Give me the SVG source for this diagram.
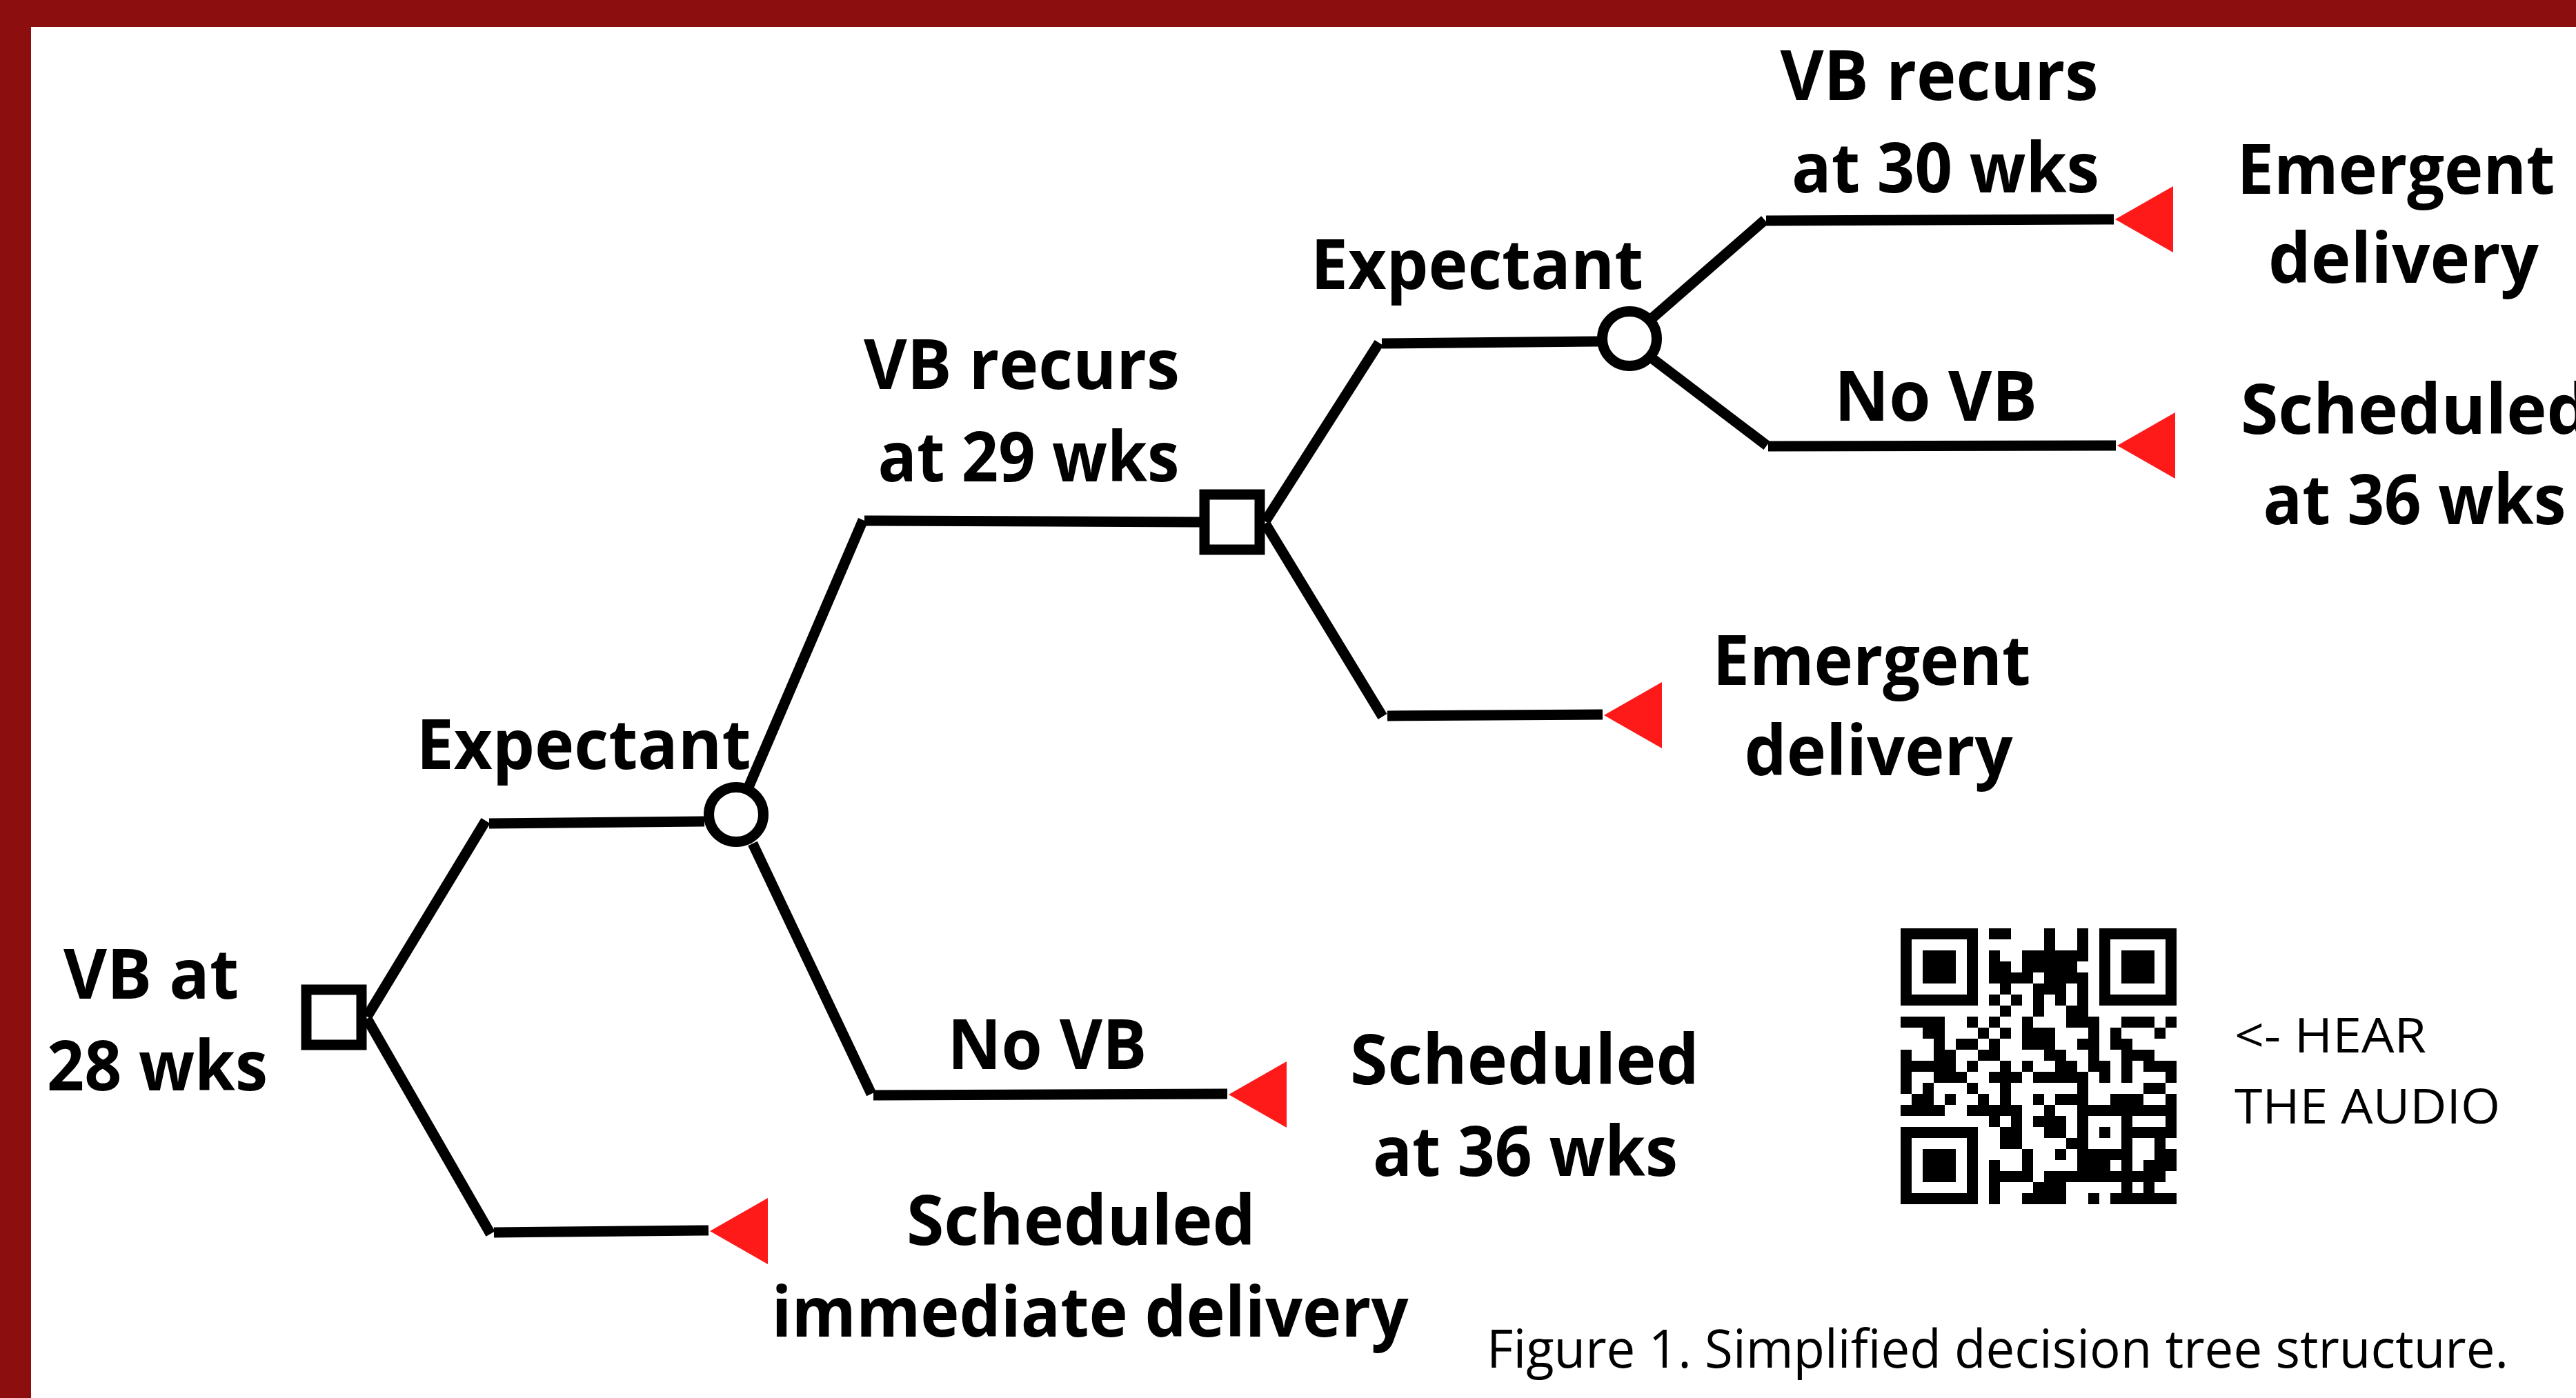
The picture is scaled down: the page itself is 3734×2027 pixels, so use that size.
<svg xmlns="http://www.w3.org/2000/svg" width="3734" height="2027" viewBox="0 0 3734 2027">
<style>
.lbl{font-family:"Open Sans","Noto Sans","Liberation Sans",sans-serif;font-weight:700;font-size:100px;fill:#000;text-anchor:middle}
.cap{font-family:"Open Sans","Noto Sans","Liberation Sans",sans-serif;font-weight:400;fill:#000}
.ln{stroke:#000;stroke-width:15;fill:none;stroke-linecap:butt}
.node{stroke:#000;stroke-width:15;fill:#fff}
.term{fill:#FF1A1A}
</style>
<defs>
<polygon id="tri" points="0,0 84,-48 84,48"/>
</defs>
<rect x="0" y="0" width="3734" height="2027" fill="#fff"/>
<g id="border" fill="#8C0E0E">
<rect x="0" y="0" width="3734" height="39"/>
<rect x="0" y="0" width="45" height="2027"/>
</g>
<g id="connectors" class="ln">
<line x1="532" y1="1474" x2="704" y2="1190"/>
<line x1="709" y1="1194" x2="1021" y2="1191"/>
<line x1="532" y1="1477" x2="711" y2="1789"/>
<line x1="716" y1="1787" x2="1027" y2="1784"/>
<line x1="1086" y1="1139" x2="1251" y2="754"/>
<line x1="1253" y1="755" x2="1739" y2="757"/>
<line x1="1091" y1="1223" x2="1263" y2="1586"/>
<line x1="1266" y1="1588" x2="1779" y2="1586"/>
<line x1="1834" y1="756" x2="1999" y2="497"/>
<line x1="2003" y1="498" x2="2317" y2="495"/>
<line x1="1834" y1="759" x2="2004" y2="1039"/>
<line x1="2011" y1="1038" x2="2323" y2="1036"/>
<line x1="2394" y1="462" x2="2558" y2="319"/>
<line x1="2560" y1="320" x2="3064" y2="318"/>
<line x1="2394" y1="519" x2="2561" y2="646"/>
<line x1="2563" y1="647" x2="3067" y2="646"/>
</g>
<g id="root">
<rect class="node" x="444" y="1435" width="80" height="80"/>
<text class="lbl" x="219" y="1448" textLength="254" lengthAdjust="spacingAndGlyphs">VB at</text>
<text class="lbl" x="228" y="1581" textLength="320" lengthAdjust="spacingAndGlyphs">28 wks</text>
</g>
<g id="chance1">
<circle class="node" cx="1067" cy="1181" r="39.5"/>
<text class="lbl" x="846" y="1115" textLength="485" lengthAdjust="spacingAndGlyphs">Expectant</text>
</g>
<g id="term-immediate">
<use href="#tri" class="term" x="1029" y="1785"/>
<text class="lbl" x="1567" y="1805" textLength="506" lengthAdjust="spacingAndGlyphs">Scheduled</text>
<text class="lbl" x="1580" y="1938" textLength="923" lengthAdjust="spacingAndGlyphs">immediate delivery</text>
</g>
<g id="decision2">
<rect class="node" x="1746" y="717" width="80" height="80"/>
<text class="lbl" x="1481" y="564" textLength="458" lengthAdjust="spacingAndGlyphs">VB recurs</text>
<text class="lbl" x="1491" y="698" textLength="437" lengthAdjust="spacingAndGlyphs">at 29 wks</text>
</g>
<g id="term-novb1">
<text class="lbl" x="1518" y="1550" textLength="289" lengthAdjust="spacingAndGlyphs">No VB</text>
<use href="#tri" class="term" x="1781" y="1587"/>
<text class="lbl" x="2210" y="1572" textLength="506" lengthAdjust="spacingAndGlyphs">Scheduled</text>
<text class="lbl" x="2211" y="1705" textLength="442" lengthAdjust="spacingAndGlyphs">at 36 wks</text>
</g>
<g id="chance2">
<circle class="node" cx="2362" cy="491" r="39.5"/>
<text class="lbl" x="2141" y="419" textLength="482" lengthAdjust="spacingAndGlyphs">Expectant</text>
</g>
<g id="term-emergent29">
<use href="#tri" class="term" x="2325" y="1037"/>
<text class="lbl" x="2713" y="993" textLength="461" lengthAdjust="spacingAndGlyphs">Emergent</text>
<text class="lbl" x="2723" y="1124" textLength="389" lengthAdjust="spacingAndGlyphs">delivery</text>
</g>
<g id="term-emergent30">
<text class="lbl" x="2811" y="145" textLength="461" lengthAdjust="spacingAndGlyphs">VB recurs</text>
<text class="lbl" x="2820" y="279" textLength="446" lengthAdjust="spacingAndGlyphs">at 30 wks</text>
<use href="#tri" class="term" x="3066" y="318"/>
<text class="lbl" x="3473" y="281" textLength="461" lengthAdjust="spacingAndGlyphs">Emergent</text>
<text class="lbl" x="3484" y="410" textLength="392" lengthAdjust="spacingAndGlyphs">delivery</text>
</g>
<g id="term-novb2">
<text class="lbl" x="2806" y="610" textLength="294" lengthAdjust="spacingAndGlyphs">No VB</text>
<use href="#tri" class="term" x="3069" y="646"/>
<text class="lbl" x="3501" y="629" textLength="506" lengthAdjust="spacingAndGlyphs">Scheduled</text>
<text class="lbl" x="3500" y="760" textLength="439" lengthAdjust="spacingAndGlyphs">at 36 wks</text>
</g>
<g id="qr" transform="translate(2755,1346) scale(16)" fill="#000" shape-rendering="crispEdges">
<path d="M0 0h7v1h-7zM8 0h2v1h-2zM13 0h1v1h-1zM16 0h1v1h-1zM18 0h7v1h-7z
M0 1h1v1h-1zM6 1h1v1h-1zM13 1h1v1h-1zM16 1h1v1h-1zM18 1h1v1h-1zM24 1h1v1h-1z
M0 2h1v1h-1zM2 2h3v1h-3zM6 2h1v1h-1zM8 2h1v1h-1zM11 2h6v1h-6zM18 2h1v1h-1zM20 2h3v1h-3zM24 2h1v1h-1z
M0 3h1v1h-1zM2 3h3v1h-3zM6 3h1v1h-1zM8 3h2v1h-2zM11 3h5v1h-5zM18 3h1v1h-1zM20 3h3v1h-3zM24 3h1v1h-1z
M0 4h1v1h-1zM2 4h3v1h-3zM6 4h1v1h-1zM8 4h4v1h-4zM13 4h4v1h-4zM18 4h1v1h-1zM20 4h3v1h-3zM24 4h1v1h-1z
M0 5h1v1h-1zM6 5h1v1h-1zM9 5h1v1h-1zM12 5h3v1h-3zM16 5h1v1h-1zM18 5h1v1h-1zM24 5h1v1h-1z
M0 6h7v1h-7zM8 6h1v1h-1zM10 6h1v1h-1zM12 6h1v1h-1zM14 6h1v1h-1zM16 6h1v1h-1zM18 6h7v1h-7z
M9 7h1v1h-1zM12 7h1v1h-1zM15 7h2v1h-2z
M0 8h4v1h-4zM6 8h1v1h-1zM8 8h1v1h-1zM11 8h1v1h-1zM15 8h3v1h-3zM20 8h3v1h-3zM24 8h1v1h-1z
M2 9h2v1h-2zM7 9h1v1h-1zM9 9h1v1h-1zM11 9h3v1h-3zM17 9h1v1h-1zM19 9h1v1h-1zM23 9h1v1h-1z
M3 10h1v1h-1zM5 10h2v1h-2zM8 10h1v1h-1zM11 10h3v1h-3zM16 10h2v1h-2zM19 10h2v1h-2z
M0 11h1v1h-1zM3 11h2v1h-2zM7 11h2v1h-2zM13 11h2v1h-2zM17 11h1v1h-1zM20 11h3v1h-3z
M0 12h5v1h-5zM6 12h1v1h-1zM9 12h1v1h-1zM11 12h1v1h-1zM14 12h2v1h-2zM17 12h2v1h-2zM20 12h1v1h-1zM22 12h3v1h-3z
M0 13h1v1h-1zM3 13h3v1h-3zM8 13h3v1h-3zM12 13h5v1h-5zM18 13h1v1h-1zM20 13h1v1h-1zM24 13h1v1h-1z
M0 14h1v1h-1zM2 14h1v1h-1zM6 14h1v1h-1zM9 14h1v1h-1zM16 14h1v1h-1zM22 14h2v1h-2z
M1 15h2v1h-2zM4 15h1v1h-1zM7 15h1v1h-1zM9 15h1v1h-1zM12 15h1v1h-1zM14 15h3v1h-3zM19 15h3v1h-3zM24 15h1v1h-1z
M0 16h4v1h-4zM6 16h5v1h-5zM13 16h1v1h-1zM16 16h9v1h-9z
M8 17h1v1h-1zM10 17h1v1h-1zM12 17h3v1h-3zM16 17h1v1h-1zM20 17h1v1h-1zM24 17h1v1h-1z
M0 18h7v1h-7zM9 18h2v1h-2zM13 18h2v1h-2zM16 18h1v1h-1zM18 18h1v1h-1zM20 18h5v1h-5z
M0 19h1v1h-1zM6 19h1v1h-1zM9 19h2v1h-2zM15 19h2v1h-2zM20 19h1v1h-1zM23 19h1v1h-1z
M0 20h1v1h-1zM2 20h3v1h-3zM6 20h1v1h-1zM11 20h1v1h-1zM14 20h1v1h-1zM16 20h5v1h-5zM23 20h2v1h-2z
M0 21h1v1h-1zM2 21h3v1h-3zM6 21h1v1h-1zM8 21h1v1h-1zM11 21h1v1h-1zM16 21h3v1h-3zM20 21h1v1h-1zM22 21h3v1h-3z
M0 22h1v1h-1zM2 22h3v1h-3zM6 22h1v1h-1zM8 22h4v1h-4zM13 22h11v1h-11z
M0 23h1v1h-1zM6 23h1v1h-1zM8 23h1v1h-1zM12 23h3v1h-3zM20 23h1v1h-1zM22 23h1v1h-1z
M0 24h7v1h-7zM8 24h1v1h-1zM11 24h4v1h-4zM17 24h1v1h-1zM19 24h6v1h-6z"/>
</g>
<g id="qr-label">
<text class="cap" x="3239" y="1526" font-size="70" textLength="278" lengthAdjust="spacingAndGlyphs">&lt;- HEAR</text>
<text class="cap" x="3239" y="1629" font-size="70" textLength="385" lengthAdjust="spacingAndGlyphs">THE AUDIO</text>
</g>
<g id="caption">
<text class="cap" x="2155" y="1983" font-size="76" textLength="1481" lengthAdjust="spacingAndGlyphs">Figure 1. Simplified decision tree structure.</text>
</g>
</svg>
